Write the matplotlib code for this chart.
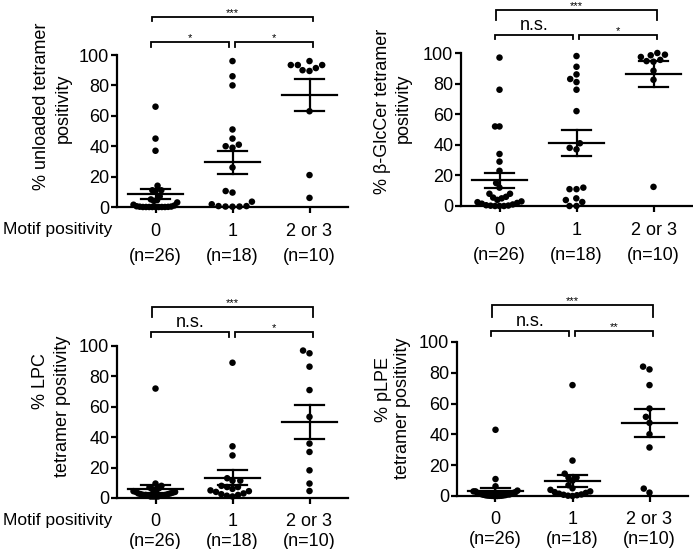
import numpy as np
import matplotlib
matplotlib.use("Agg")
import matplotlib.pyplot as plt

plt.rcParams['font.family'] = ['Liberation Sans', 'DejaVu Sans']

# ---------------- data ----------------
categories = ["0", "1", "2 or 3"]
group_n = [26, 18, 10]

unloaded_g0 = [66, 45, 37, 14, 11, 10.5, 11, 7,
               5, 4.5, 4, 3, 1.5, 1, 0.5, 0.3, 0.2, 0.1, 0, 0, 0, 0, 0, 0, 0, 0]
unloaded_g1 = [96, 86, 80, 51, 45, 41, 40, 39, 26, 10.5, 9.5, 3.5, 0.6, 0.3, 0.2, 0.3, 0.6, 1.8]
unloaded_g2 = [93.4, 93.4, 96, 90, 89.5, 91.4, 93.4, 63, 21, 6]

glccer_g0 = [97, 76, 52, 52, 34, 29, 23, 15, 12, 8, 8,
             6, 5.5, 5, 4, 3, 2.5, 2, 1.5, 1, 0.5, 0.3, 0.2, 0, 0, 0]
glccer_g1 = [98, 91, 86, 83, 81, 76, 62, 41, 38, 37, 11, 11, 12, 5, 2.6, 0, 0, 3.9]
glccer_g2 = [98.5, 95.5, 94.3, 94.7, 100, 97.4, 98.9, 88.4, 82.5, 12.5]

lpc_g0 = [72, 9.5, 8,
          7, 6.5, 6, 5.5, 5, 4.5, 4, 4, 3.5, 3, 3, 2.5, 2.5, 2, 2, 2, 1.5, 1.5, 1.5, 1, 1, 1, 1]
lpc_g1 = [89, 34, 28, 13, 11.4, 11.4, 8, 7.2, 7.2, 6, 5, 4.5, 4, 3, 2.5, 2, 1.5, 1]
lpc_g2 = [95.2, 97, 86.4, 71, 53.4, 35.8, 30.3, 18.2, 9.5, 4.6]

plpe_g0 = [43, 11, 6.3,
           3.5, 3, 3, 2.5, 2, 2, 1.5, 1.5, 1.2, 1, 1, 0.8, 0.6, 0.5, 0.4, 0.3, 0.2, 0.2, 0.1, 0.1, 0, 0, 0]
plpe_g1 = [72, 23, 14.5, 12, 12, 10, 7, 5, 4, 3, 2.5, 2, 1.5, 1, 0.8, 0.5, 0.2, 0]
plpe_g2 = [82.2, 84, 72, 56.8, 51.4, 47.5, 40.1, 31.5, 2.2, 4.8]

y_ticks = [0, 20, 40, 60, 80, 100]

sig_unloaded = ["*", "*", "***"]
sig_glccer = ["n.s.", "*", "***"]
sig_lpc = ["n.s.", "*", "***"]
sig_plpe = ["n.s.", "**", "***"]

# ---------------- layout ----------------
W, H = 693, 549
fig = plt.figure(figsize=(W / 100, H / 100), dpi=100)

def rect(left_px, y0_px, y100_px, width_px=231):
    return [left_px / W, (H - y0_px) / H, width_px / W, (y0_px - y100_px) / H]

panels = [
    dict(rect=rect(117, 207, 55), groups=[unloaded_g0, unloaded_g1, unloaded_g2],
         lab=[("% unloaded tetramer", -0.325, 0.664), ("positivity", -0.234, 0.651)],
         motif=True, motif_y=-0.151, sig=sig_unloaded, ls=1.6, pad=7.8,
         top=(125, 122.4), low=(108.6, 105.3)),
    dict(rect=rect(461, 206, 53), groups=[glccer_g0, glccer_g1, glccer_g2],
         lab=[("% \u03b2-GlcCer tetramer", -0.338, 0.62), ("positivity", -0.251, 0.64)],
         motif=False, sig=sig_glccer, ls=1.6, pad=7.8,
         top=(128.1, 121.6), low=(111.8, 109.2)),
    dict(rect=rect(117, 498, 346), groups=[lpc_g0, lpc_g1, lpc_g2],
         lab=[("% LPC", -0.333, 0.77), ("tetramer positivity", -0.238, 0.60)],
         motif=True, motif_y=-0.145, sig=sig_lpc, ls=1.3, pad=6.5,
         top=(125.9, 119.3), low=(109.4, 106.1)),
    dict(rect=rect(457, 496, 342), groups=[plpe_g0, plpe_g1, plpe_g2],
         lab=[("% pLPE", -0.32, 0.69), ("tetramer positivity", -0.234, 0.57)],
         motif=False, sig=sig_plpe, ls=1.3, pad=6.5,
         top=(124, 116.4), low=(107.3, 103.9)),
]

FS = 13
LW = 1.6


def swarm_x(ax, xc, vals, d=7.0, maxhw=22.0):
    vals = np.asarray(vals, float)
    pix = ax.transData.transform(np.column_stack([np.full(len(vals), xc), vals]))
    ys = pix[:, 1]
    order = np.argsort(ys, kind="stable")
    placed = []
    offs = np.zeros(len(vals))
    for i in order:
        y = ys[i]
        cands = [0.0]
        for px, py in placed:
            dy = abs(py - y)
            if dy < d:
                dx = np.sqrt(d * d - dy * dy)
                cands += [px - dx, px + dx]
        best = 0.0
        for c in sorted(cands, key=lambda c: (round(abs(c), 6), c)):
            if all((c - px) ** 2 + (y - py) ** 2 >= d * d - 1e-6 for px, py in placed):
                best = c
                break
        offs[i] = best
        placed.append((best, y))
    m = np.abs(offs).max()
    if m > maxhw:
        offs *= maxhw / m
    x0 = pix[0, 0]
    return ax.transData.inverted().transform(np.column_stack([x0 + offs, ys]))[:, 0]


def bracket(ax, x1, x2, y, yend, text, fs, dy):
    ax.plot([x1, x1, x2, x2], [yend, y, y, yend], color="black", lw=1.3,
            clip_on=False, solid_joinstyle="miter")
    ax.text((x1 + x2) / 2, y + dy, text, ha="center", va="baseline",
            fontsize=fs, clip_on=False)


for p in panels:
    ax = fig.add_axes(p["rect"])
    ax.set_xlim(-0.5, 2.5)
    ax.set_ylim(0, 100)
    for s in ("top", "right"):
        ax.spines[s].set_visible(False)
    for s in ("left", "bottom"):
        ax.spines[s].set_linewidth(LW)
    ax.set_yticks(y_ticks)
    ax.set_xticks(range(len(categories)))
    ax.set_xticklabels([f"{c}\n(n={n})" for c, n in zip(categories, group_n)],
                       linespacing=p["ls"])
    ax.tick_params(axis="y", length=4, width=LW, pad=1.5, labelsize=FS)
    ax.tick_params(axis="x", length=4, width=LW, pad=p["pad"], labelsize=FS)

    for gi, vals in enumerate(p["groups"]):
        xs = swarm_x(ax, gi, vals)
        ax.scatter(xs, vals, s=22, color="black", edgecolors="none",
                   clip_on=False, zorder=3)
        v = np.asarray(vals, float)
        m = v.mean()
        sem = v.std(ddof=1) / np.sqrt(len(v))
        ax.plot([gi - 0.36, gi + 0.36], [m, m], color="black", lw=LW, zorder=4,
                clip_on=False)
        ax.plot([gi, gi], [m - sem, m + sem], color="black", lw=LW, zorder=4)
        for yy in (m - sem, m + sem):
            ax.plot([gi - 0.19, gi + 0.19], [yy, yy], color="black", lw=LW, zorder=4)

    for txt, lx, ly in p["lab"]:
        ax.text(lx, ly, txt, transform=ax.transAxes, rotation=90,
                ha="center", va="center", fontsize=FS)
    if p["motif"]:
        ax.text(-0.022, p["motif_y"], "Motif positivity", transform=ax.transAxes,
                ha="right", va="center", fontsize=12.5)

    ty, tye = p["top"]
    ly, lye = p["low"]
    sig = p["sig"]
    def fsd(t):
        return (FS, 3.3) if t == "n.s." else (8, 0.4)
    f, dd = fsd(sig[0]); bracket(ax, -0.06, 0.95, ly, lye, sig[0], f, dd)
    f, dd = fsd(sig[1]); bracket(ax, 1.03, 2.04, ly, lye, sig[1], f, dd)
    f, dd = fsd(sig[2]); bracket(ax, -0.04, 2.04, ty, tye, sig[2], f, dd)

fig.savefig("out.png", dpi=100)
